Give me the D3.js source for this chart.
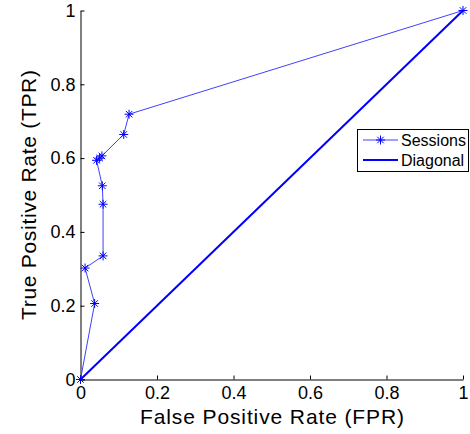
<!DOCTYPE html>
<html>
<head>
<meta charset="utf-8">
<script src="https://cdn.jsdelivr.net/npm/d3@7"></script>
<style>
body{margin:0;background:#fff;}
text{font-family:"Liberation Sans",Arial,sans-serif;fill:#000;}
</style>
</head>
<body>
<div id="graph"></div>
<script>
// ROC points
var fpr = [0, 0.037, 0.012, 0.059, 0.059, 0.057, 0.042, 0.050, 0.056, 0.113, 0.127, 1];
var tpr = [0, 0.206, 0.302, 0.335, 0.475, 0.525, 0.594, 0.600, 0.606, 0.664, 0.719, 1];
var diag = [0, 1];
var ticks = [0, 0.2, 0.4, 0.6, 0.8, 1];
var seriesNames = ["Sessions", "Diagonal"];

var W = 470, H = 434;
var svg = d3.select("#graph").append("svg").attr("width", W).attr("height", H);

var x = d3.scaleLinear().domain([0, 1]).range([80.5, 463]);
var y = d3.scaleLinear().domain([0, 1]).range([379.5, 10.5]);
var fmt = d3.format("~g");

// axes, ticks pointing inward like matlab
var xAx = svg.append("g").attr("transform", "translate(0," + y(0) + ")")
  .call(d3.axisBottom(x).tickValues(ticks).tickFormat(fmt).tickSizeInner(-4).tickSizeOuter(0).tickPadding(7));
var yAx = svg.append("g").attr("transform", "translate(" + x(0) + ",0)")
  .call(d3.axisLeft(y).tickValues(ticks).tickFormat(fmt).tickSizeInner(-4).tickSizeOuter(0).tickPadding(5));
[xAx, yAx].forEach(function(a){
  a.selectAll("text").style("font-size", "18px").style("font-family", "Liberation Sans, Arial, sans-serif").attr("fill", "#000");
  a.selectAll("line,path").attr("stroke", "#000");
});

// axis titles
svg.append("text").attr("x", 272).attr("y", 424).attr("text-anchor", "middle")
  .style("font-size", "21px").attr("textLength", 264).attr("lengthAdjust", "spacing")
  .text("False Positive Rate (FPR)");
svg.append("text").attr("transform", "translate(36,195) rotate(-90)").attr("text-anchor", "middle")
  .style("font-size", "21px").attr("textLength", 250).attr("lengthAdjust", "spacing")
  .text("True Positive Rate (TPR)");

// diagonal
svg.append("path").datum(diag)
  .attr("d", d3.line().x(function(d){ return x(d); }).y(function(d){ return y(d); }))
  .attr("fill", "none").attr("stroke", "#0000ff").attr("stroke-width", 2);

// sessions curve
var pts = fpr.map(function(v, i){ return [v, tpr[i]]; });
svg.append("path").datum(pts)
  .attr("d", d3.line().x(function(d){ return x(d[0]); }).y(function(d){ return y(d[1]); }))
  .attr("fill", "none").attr("stroke", "#4040ff").attr("stroke-width", 1);

function star(cx, cy, r){
  var d = r * 0.72;
  return "M" + (cx - r) + "," + cy + "H" + (cx + r) +
    "M" + cx + "," + (cy - r) + "V" + (cy + r) +
    "M" + (cx - d) + "," + (cy - d) + "L" + (cx + d) + "," + (cy + d) +
    "M" + (cx - d) + "," + (cy + d) + "L" + (cx + d) + "," + (cy - d);
}
svg.selectAll(".mk").data(pts).enter().append("path").attr("class", "mk")
  .attr("d", function(d){ return star(x(d[0]), y(d[1]), 4.5); })
  .attr("stroke", "#0000ff").attr("stroke-width", 1).attr("fill", "none");

// legend
var lg = svg.append("g");
lg.append("rect").attr("x", 357.5).attr("y", 129.5).attr("width", 111).attr("height", 42)
  .attr("fill", "#fff").attr("stroke", "#000");
lg.append("line").attr("x1", 363).attr("x2", 398).attr("y1", 140).attr("y2", 140)
  .attr("stroke", "#4040ff").attr("stroke-width", 1);
lg.append("path").attr("d", star(380.5, 140, 4.5)).attr("stroke", "#0000ff").attr("fill", "none");
lg.append("line").attr("x1", 363).attr("x2", 398).attr("y1", 160).attr("y2", 160)
  .attr("stroke", "#0000ff").attr("stroke-width", 2);
lg.selectAll(".lt").data(seriesNames).enter().append("text").attr("class", "lt")
  .attr("x", 401).attr("y", function(d, i){ return 145.7 + i * 20; })
  .style("font-size", "16px").text(function(d){ return d; });
</script>
</body>
</html>
